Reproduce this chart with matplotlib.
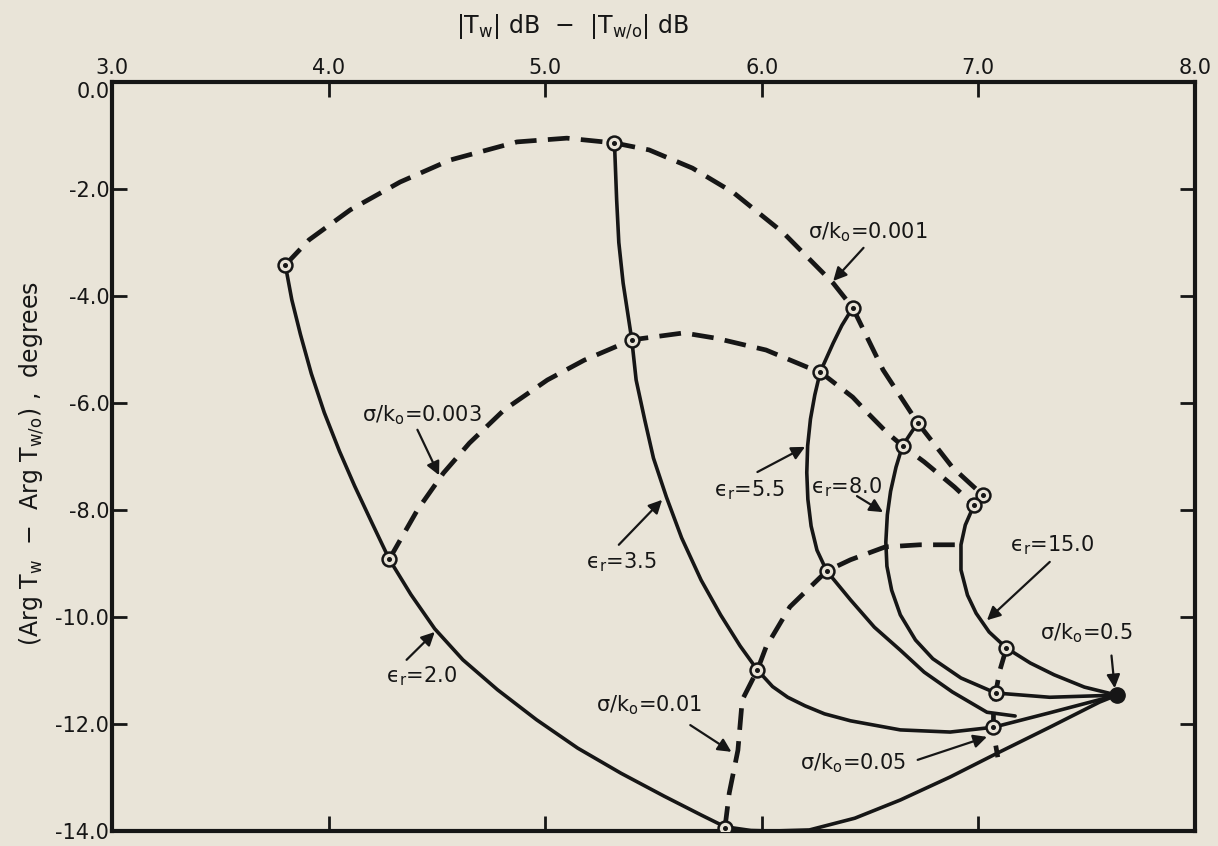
import matplotlib
matplotlib.use('Agg')
import matplotlib.pyplot as plt
from matplotlib.transforms import ScaledTranslation

PAPER = '#e9e4d8'
INK = '#161616'

X_TICKS = [3.0, 4.0, 5.0, 6.0, 7.0, 8.0]
X_TICK_LABELS = ['3.0', '4.0', '5.0', '6.0', '7.0', '8.0']
Y_TICKS = [0.0, -2.0, -4.0, -6.0, -8.0, -10.0, -12.0, -14.0]
Y_TICK_LABELS = ['0.0', '-2.0', '-4.0', '-6.0', '-8.0', '-10.0', '-12.0', '-14.0']

# solid curves: constant relative permittivity
EPS_2_0_X = [3.80, 3.83, 3.87, 3.92, 3.98, 4.05, 4.12, 4.20, 4.28, 4.38, 4.49, 4.62, 4.78,
             4.96, 5.15, 5.35, 5.55, 5.72, 5.83, 5.95, 6.05, 6.22, 6.43, 6.64, 6.87,
             7.09, 7.33, 7.56, 7.64]
EPS_2_0_Y = [-3.42, -4.07, -4.72, -5.45, -6.18, -6.90, -7.55, -8.24, -8.92, -9.58, -10.22, -10.80, -11.36,
             -11.92, -12.45, -12.92, -13.35, -13.70, -13.92, -13.99, -14.0, -13.98, -13.76, -13.42, -12.99,
             -12.54, -12.06, -11.59, -11.46]

EPS_3_5_X = [5.32, 5.33, 5.34, 5.36, 5.40, 5.42, 5.46, 5.50, 5.56, 5.63, 5.72,
             5.81, 5.90, 5.98, 6.05, 6.12, 6.20, 6.29, 6.41, 6.64, 6.87, 7.07, 7.33, 7.64]
EPS_3_5_Y = [-1.14, -2.20, -3.00, -3.76, -4.82, -5.57, -6.32, -7.03, -7.76, -8.52, -9.31,
             -9.96, -10.54, -10.99, -11.30, -11.50, -11.66, -11.81, -11.94, -12.11, -12.15, -12.06,
             -11.79, -11.46]

EPS_5_5_X = [6.42, 6.37, 6.33, 6.30, 6.27, 6.245, 6.225, 6.212, 6.208, 6.213, 6.228,
             6.255, 6.30, 6.41, 6.52, 6.64, 6.75, 6.88, 7.04, 7.17]
EPS_5_5_Y = [-4.22, -4.55, -4.88, -5.15, -5.42, -5.85, -6.30, -6.80, -7.30, -7.80, -8.30,
             -8.75, -9.14, -9.68, -10.19, -10.62, -11.03, -11.40, -11.78, -11.85]

EPS_8_0_X = [6.72, 6.65, 6.62, 6.595, 6.58, 6.573, 6.578, 6.60, 6.64, 6.71, 6.79,
             6.92, 7.08, 7.33, 7.64]
EPS_8_0_Y = [-6.37, -6.80, -7.20, -7.65, -8.09, -8.60, -9.05, -9.50, -9.96, -10.43, -10.78,
             -11.14, -11.42, -11.50, -11.46]

EPS_15_X = [7.02, 6.98, 6.94, 6.92, 6.92, 6.95, 6.99, 7.05, 7.13, 7.24, 7.35,
            7.49, 7.64]
EPS_15_Y = [-7.72, -7.91, -8.28, -8.65, -9.12, -9.59, -9.93, -10.28, -10.58, -10.86, -11.08,
            -11.31, -11.46]

# dashed curves: constant sigma/k0
SIG_001_X = [3.80, 3.91, 4.10, 4.33, 4.56, 4.87, 5.10, 5.32, 5.48, 5.68, 5.87,
             6.10, 6.33, 6.42, 6.56, 6.72, 6.88, 7.02]
SIG_001_Y = [-3.42, -2.95, -2.39, -1.87, -1.46, -1.12, -1.05, -1.14, -1.27, -1.61, -2.07,
             -2.82, -3.76, -4.22, -5.38, -6.37, -7.20, -7.72]

SIG_003_X = [4.28, 4.41, 4.53, 4.65, 4.81, 5.01, 5.18, 5.40, 5.64, 5.79, 6.02,
             6.21, 6.27, 6.42, 6.49, 6.58, 6.65, 6.75, 6.89, 6.98]
SIG_003_Y = [-8.92, -8.00, -7.31, -6.75, -6.13, -5.57, -5.20, -4.82, -4.69, -4.79, -5.01,
             -5.33, -5.42, -5.89, -6.19, -6.56, -6.80, -7.10, -7.57, -7.91]

SIG_01_X = [5.83, 5.85, 5.89, 5.91, 5.98, 6.02, 6.13, 6.30, 6.41, 6.57, 6.73, 6.92]
SIG_01_Y = [-13.94, -13.29, -12.49, -11.55, -10.99, -10.56, -9.81, -9.14, -8.93, -8.69, -8.65, -8.65]

SIG_05_X = [7.13, 7.10, 7.08, 7.07, 7.07, 7.08, 7.09]
SIG_05_Y = [-10.58, -10.99, -11.42, -11.74, -12.06, -12.39, -12.62]

# circled computed points
PTS_X = [3.80, 5.32, 6.42, 6.72, 7.02, 4.28, 5.40, 6.27, 6.65, 6.98,
         5.83, 5.98, 6.30, 7.13, 7.08, 7.07]
PTS_Y = [-3.42, -1.14, -4.22, -6.37, -7.72, -8.92, -4.82, -5.42, -6.80, -7.91,
         -13.94, -10.99, -9.14, -10.58, -11.42, -12.06]

# common point for sigma/k0 = 0.5
CONV_X = [7.64]
CONV_Y = [-11.46]

SIG = 'σ/k$_\\mathrm{o}$'
EPS = 'ϵ$_\\mathrm{r}$'
# (text, text x, text y, arrow tail x, tail y, arrow tip x, tip y)
LABELS = [
    (SIG + '=0.001', 6.49, -2.80, 6.47, -3.10, 6.33, -3.72),
    (SIG + '=0.003', 4.43, -6.22, 4.41, -6.50, 4.51, -7.35),
    (SIG + '=0.01', 5.48, -11.64, 5.67, -12.02, 5.86, -12.52),
    (SIG + '=0.05', 6.42, -12.73, 6.72, -12.67, 7.04, -12.24),
    (SIG + '=0.5', 7.50, -10.30, 7.615, -10.72, 7.63, -11.33),
    (EPS + '=2.0', 4.43, -11.10, 4.36, -10.80, 4.49, -10.28),
    (EPS + '=3.5', 5.35, -8.98, 5.34, -8.65, 5.54, -7.81),
    (EPS + '=5.5', 5.94, -7.63, 5.98, -7.29, 6.20, -6.82),
    (EPS + '=8.0', 6.39, -7.57, 6.44, -7.74, 6.56, -8.04),
    (EPS + '=15.0', 7.34, -8.65, 7.33, -8.97, 7.04, -10.06),
]


def main():
    plt.rcParams['font.family'] = ['DejaVu Sans']
    plt.rcParams['mathtext.fontset'] = 'dejavusans'

    fig = plt.figure(figsize=(12.18, 8.46), dpi=100, facecolor=PAPER)
    ax = fig.add_axes([0.092, 0.0177, 0.889, 0.8854])
    ax.set_facecolor(PAPER)

    solid = [(EPS_2_0_X, EPS_2_0_Y), (EPS_3_5_X, EPS_3_5_Y), (EPS_5_5_X, EPS_5_5_Y),
             (EPS_8_0_X, EPS_8_0_Y), (EPS_15_X, EPS_15_Y)]
    for xs, ys in solid:
        ax.plot(xs, ys, color=INK, lw=2.6, solid_capstyle='round',
                solid_joinstyle='round', clip_on=False)

    dashed = [(SIG_001_X, SIG_001_Y), (SIG_003_X, SIG_003_Y),
              (SIG_01_X, SIG_01_Y), (SIG_05_X, SIG_05_Y)]
    for xs, ys in dashed:
        line, = ax.plot(xs, ys, color=INK, lw=3.4, dash_capstyle='butt', clip_on=False)
        line.set_dashes((4.6, 2.4))

    ax.plot(PTS_X, PTS_Y, 'o', ms=10, mfc=PAPER, mec=INK, mew=1.8, zorder=5)
    ax.plot(PTS_X, PTS_Y, 'o', ms=2.6, color=INK, zorder=6)
    ax.plot(CONV_X, CONV_Y, 'o', ms=11, color=INK, zorder=6)

    for text, tx, ty, ax0, ay0, ax1, ay1 in LABELS:
        ax.text(tx, ty, text, fontsize=15, ha='center', va='center', color=INK)
        ax.annotate('', xy=(ax1, ay1), xytext=(ax0, ay0),
                    arrowprops=dict(arrowstyle='-|>', color=INK, lw=1.6,
                                    mutation_scale=20, shrinkA=0, shrinkB=0))

    ax.set_xlim(3.0, 8.0)
    ax.set_ylim(-14.0, 0.0)
    ax.set_xticks(X_TICKS)
    ax.set_xticklabels(X_TICK_LABELS)
    ax.set_yticks(Y_TICKS)
    ax.set_yticklabels(Y_TICK_LABELS)
    ax.tick_params(axis='x', direction='in', top=True, bottom=True,
                   labeltop=True, labelbottom=False, length=11, width=2,
                   pad=3, labelsize=15, colors=INK)
    ax.tick_params(axis='y', direction='in', left=True, right=True,
                   length=11, width=2, pad=2, labelsize=15, colors=INK)
    for spine in ax.spines.values():
        spine.set_linewidth(3)
        spine.set_color(INK)

    # the corner label 0.0 sits a little below the frame line
    zero = ax.get_yticklabels()[0]
    zero.set_transform(zero.get_transform() + ScaledTranslation(0, -6 / 72, fig.dpi_scale_trans))

    fig.text(0.47, 0.968, r'|T$_\mathrm{w}$| dB  $-$  |T$_\mathrm{w/o}$| dB',
             fontsize=17, ha='center', va='center', color=INK)
    fig.text(0.026, 0.452, r'(Arg T$_\mathrm{w}$  $-$  Arg T$_\mathrm{w/o}$) ,  degrees',
             fontsize=17, ha='center', va='center', rotation=90, color=INK)

    fig.savefig('out.png', dpi=100, facecolor=PAPER)


if __name__ == '__main__':
    main()
